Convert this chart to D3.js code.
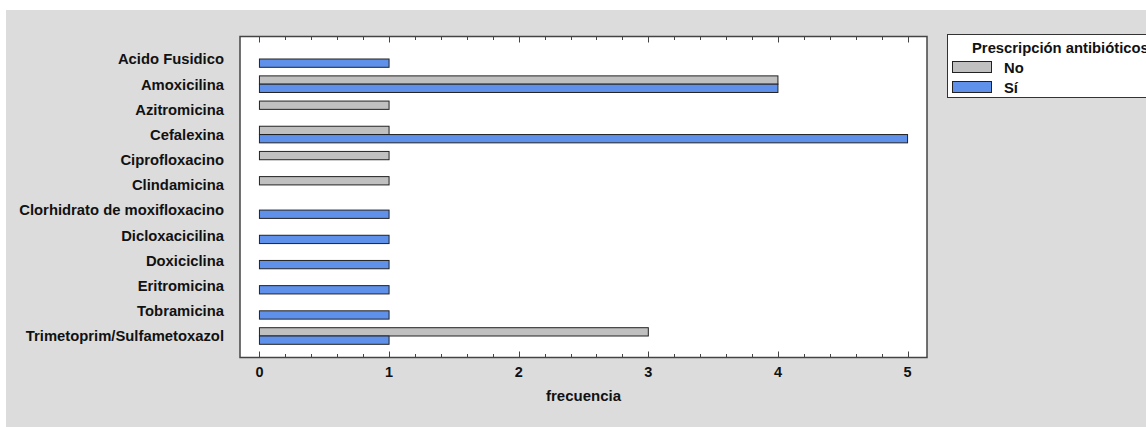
<!DOCTYPE html>
<meta charset="utf-8">
<style type="text/css">
body { margin: 0; background: #fff; }
text { font-family: "Liberation Sans", Arial, sans-serif; font-weight: bold; fill: #111; }
.bar { stroke: #222; stroke-width: 1; }
</style>
<body>
</body>
<script src="https://cdnjs.cloudflare.com/ajax/libs/d3/7.8.5/d3.min.js"></script>
<script>

// data
var categories = ["Acido Fusidico", "Amoxicilina", "Azitromicina", "Cefalexina",
  "Ciprofloxacino", "Clindamicina", "Clorhidrato de moxifloxacino", "Dicloxacicilina",
  "Doxiciclina", "Eritromicina", "Tobramicina", "Trimetoprim/Sulfametoxazol"];
var noValues = [0, 4, 1, 1, 1, 1, 0, 0, 0, 0, 0, 3];
var siValues = [1, 4, 0, 5, 0, 0, 1, 1, 1, 1, 1, 1];
var seriesNames = ["No", "Sí"];
var xTicks = [0, 1, 2, 3, 4, 5];
var legendTitle = "Prescripción antibióticos";
var xLabel = "frecuencia";

var W = 1146, H = 427;
var plot = {left: 240, right: 927, top: 36.5, bottom: 357.5};
var colors = {"No": "#c0c0c0", "Sí": "#5f91eb"};

var svg = d3.select("body").append("svg")
    .attr("width", W)
    .attr("height", H);

// grey page background
svg.append("rect")
    .attr("x", 6).attr("y", 10)
    .attr("width", W - 6).attr("height", H - 10)
    .attr("fill", "#dcdcdc");

// plot area
svg.append("rect")
    .attr("x", plot.left).attr("y", plot.top)
    .attr("width", plot.right - plot.left)
    .attr("height", plot.bottom - plot.top)
    .attr("fill", "#fff");

var xScale = d3.scaleLinear()
    .domain([-0.15, 5.15])
    .range([plot.left, plot.right]);

var yScale = d3.scalePoint()
    .domain(categories)
    .range([plot.top + 22.5, plot.bottom - 21.5]);

var barH = 8.3;

var rows = categories.map(function(c, i) {
  return {cat: c, No: noValues[i], "Sí": siValues[i]};
});

// bars: No on top half, Sí on bottom half of each row
seriesNames.forEach(function(s, si) {
  svg.selectAll(".bar-" + si)
      .data(rows.filter(function(d) { return d[s] > 0; }))
    .enter().append("rect")
      .attr("class", "bar bar-" + si)
      .attr("x", xScale(0))
      .attr("y", function(d) { return yScale(d.cat) + (si === 0 ? -barH : 0); })
      .attr("width", function(d) { return xScale(d[s]) - xScale(0); })
      .attr("height", barH)
      .attr("fill", colors[s]);
});

// category labels
svg.append("g").selectAll("text")
    .data(categories)
  .enter().append("text")
    .attr("x", 224)
    .attr("y", function(d) { return yScale(d); })
    .attr("dy", "0.36em")
    .attr("text-anchor", "end")
    .attr("font-size", 14.8)
    .text(function(d) { return d; });

// ticks inward on top and bottom edges
var minor = d3.range(0, 25.5).map(function(i) { return i / 5; });
var tickG = svg.append("g").attr("stroke", "#444").attr("stroke-width", 1);
minor.forEach(function(v) {
  var major = Math.abs(v - Math.round(v)) < 1e-6;
  var len = major ? 6 : 3.5;
  var x = Math.round(xScale(v)) + 0.5;
  tickG.append("line").attr("x1", x).attr("x2", x)
      .attr("y1", plot.bottom).attr("y2", plot.bottom - len);
  tickG.append("line").attr("x1", x).attr("x2", x)
      .attr("y1", plot.top).attr("y2", plot.top + len);
});

// frame
svg.append("rect")
    .attr("x", plot.left).attr("y", plot.top)
    .attr("width", plot.right - plot.left)
    .attr("height", plot.bottom - plot.top)
    .attr("fill", "none")
    .attr("stroke", "#444")
    .attr("stroke-width", 1.5);

// tick labels
svg.append("g").selectAll("text")
    .data(xTicks)
  .enter().append("text")
    .attr("x", function(d) { return xScale(d); })
    .attr("y", 377)
    .attr("text-anchor", "middle")
    .attr("font-size", 14.5)
    .text(function(d) { return d; });

svg.append("text")
    .attr("x", (plot.left + plot.right) / 2)
    .attr("y", 401)
    .attr("text-anchor", "middle")
    .attr("font-size", 15)
    .text(xLabel);

// legend
var lg = svg.append("g");
lg.append("rect")
    .attr("x", 947.5).attr("y", 34.5)
    .attr("width", 230).attr("height", 63)
    .attr("fill", "#fff")
    .attr("stroke", "#333")
    .attr("stroke-width", 1);
lg.append("text")
    .attr("x", 972).attr("y", 52.5)
    .attr("font-size", 14.8)
    .text(legendTitle);
seriesNames.forEach(function(s, i) {
  lg.append("rect")
      .attr("x", 952.5).attr("y", 61.5 + i * 20)
      .attr("width", 39).attr("height", 11)
      .attr("fill", colors[s])
      .attr("stroke", "#222");
  lg.append("text")
      .attr("x", 1004).attr("y", 72.5 + i * 20)
      .attr("font-size", 14.8)
      .text(s);
});

</script>
